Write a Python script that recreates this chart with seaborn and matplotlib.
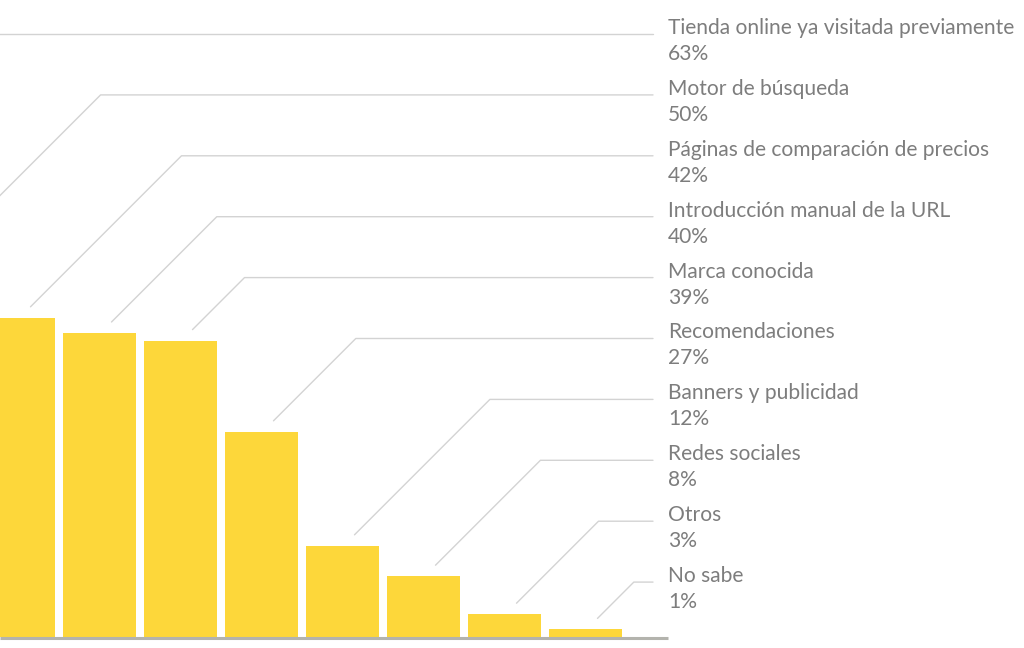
import matplotlib
matplotlib.use("Agg")
import matplotlib.pyplot as plt
import seaborn as sns
import pandas as pd
import numpy as np

categories = ["Tienda online ya visitada previamente", "Motor de búsqueda",
              "Páginas de comparación de precios", "Introducción manual de la URL",
              "Marca conocida", "Recomendaciones", "Banners y publicidad",
              "Redes sociales", "Otros", "No sabe"]
values = [63, 50, 42, 40, 39, 27, 12, 8, 3, 1]
pct_labels = [f"{v}%" for v in values]

BAR_COLOR = "#FDD73A"
TEXT_COLOR = "#7d7d7d"
LEADER_COLOR = "#d3d3d3"
BASE_COLOR = "#b3b3ad"

W, H, DPI = 1024, 648, 100
sns.set_theme(style="white")
plt.rcParams['font.family'] = ['Lato', 'DejaVu Sans']

fig = plt.figure(figsize=(W / DPI, H / DPI), dpi=DPI)
ax = fig.add_axes([0, 0, 1, 1])

df = pd.DataFrame({"cat": categories, "val": values})
sns.barplot(data=df, x="cat", y="val", order=categories, color=BAR_COLOR,
            saturation=1, width=0.9, ax=ax, edgecolor="none")

pitch = 81.0          # px per category
px_per_unit = 7.6     # px per percent
first_center_px = -143.5
base_px_from_bottom = H - 637
x_left = -first_center_px / pitch
ax.set_xlim(x_left, x_left + W / pitch)
ax.set_ylim(-base_px_from_bottom / px_per_unit, (H - base_px_from_bottom) / px_per_unit)
ax.axis("off")

# baseline
ax.axhline(-1.2 / px_per_unit, xmin=0, xmax=668 / W, color=BASE_COLOR, lw=2.2,
           solid_capstyle="butt", zorder=5)

fig.canvas.draw()
to_disp = ax.transData
to_data = ax.transData.inverted()

label_x = 668
line_end_x = 653
row0, row_step = 34, 60.9

# fit font size so longest label spans ~347px
renderer = fig.canvas.get_renderer()
probe = fig.text(0, 0, categories[0], fontsize=15)
w = probe.get_window_extent(renderer).width
probe.remove()
fs = 15 * 347 / w

for i, (cat, v, pl) in enumerate(zip(categories, values, pct_labels)):
    row_y_top = row0 + row_step * i
    row_y = H - row_y_top  # display coords (from bottom)
    ex, ey = to_disp.transform((i, v))
    ex += 12
    ey += 11
    dy = row_y - ey
    elx = ex + dy
    pts = np.array([[ex, ey], [elx, row_y], [line_end_x, row_y]])
    dpts = to_data.transform(pts)
    ax.plot(dpts[:, 0], dpts[:, 1], color=LEADER_COLOR, lw=1.0, zorder=1,
            clip_on=False)
    fig.text(label_x / W, row_y / H, cat, fontsize=fs, color=TEXT_COLOR,
             ha="left", va="baseline")
    fig.text(label_x / W, (row_y - 26) / H, pl, fontsize=fs, color=TEXT_COLOR,
             ha="left", va="baseline")

fig.savefig("out.png", dpi=DPI, facecolor="white")
